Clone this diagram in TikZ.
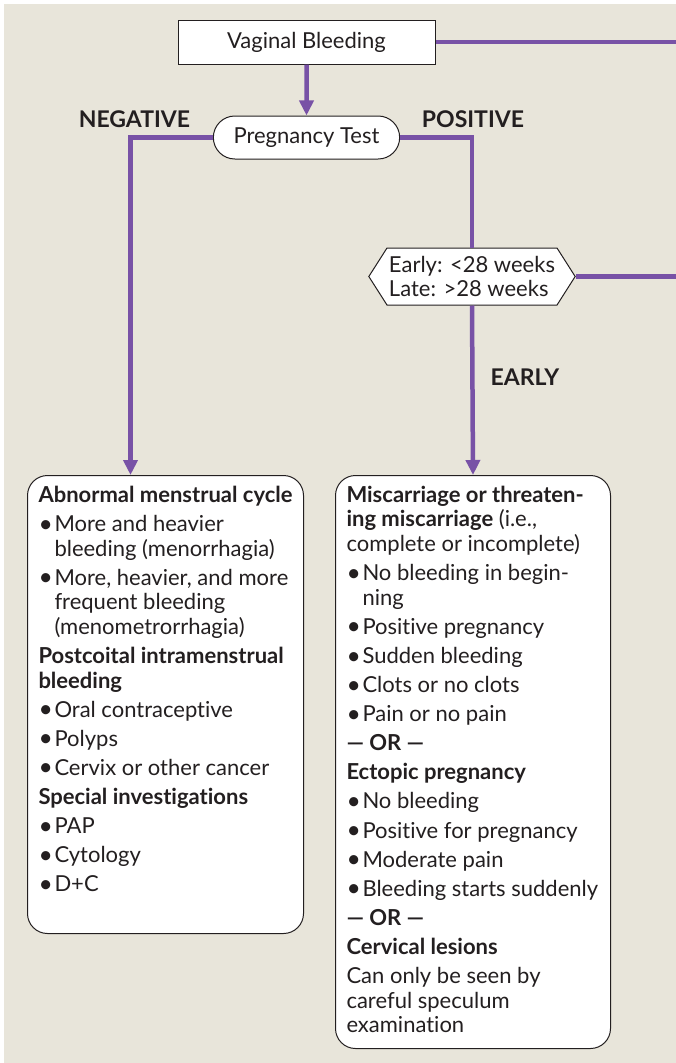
\documentclass[tikz,border=0pt]{standalone}
\usepackage{fontspec}
\setmainfont[Ligatures={TeX,NoCommon}]{Lato}
\usetikzlibrary{arrows.meta,shapes.misc,shapes.symbols}
\definecolor{bgbeige}{RGB}{232,229,218}
\definecolor{flowpurple}{RGB}{120,82,166}
\definecolor{inkgray}{RGB}{35,31,32}
\newcommand{\bul}{\makebox[16pt][l]{\raisebox{-0.6pt}{\scalebox{1.12}{\textbullet}}}}
\newcommand{\ind}{\hspace*{16pt}}
\newcommand{\gap}{\\[4.5pt]}

\begin{document}
\begin{tikzpicture}[x=1pt, y=-1pt, font=\fontsize{22}{24.6}\selectfont, text=inkgray]
    % 定义样式
    \tikzstyle{flow}=[line width=4.5pt, flowpurple]
    \tikzstyle{flowarrow}=[flow, -{Triangle[length=15pt,width=14pt]}]
    \tikzstyle{startbox}=[draw=inkgray, fill=white, line width=1pt, minimum width=257pt, minimum height=44pt]
    \tikzstyle{testbox}=[draw=inkgray, fill=white, line width=1pt, rounded rectangle, minimum width=193pt, minimum height=43pt]
    \tikzstyle{weekbox}=[draw=inkgray, fill=white, line width=1pt, signal, signal to=west and east, signal pointer angle=115, minimum width=200pt, minimum height=57pt, align=left, inner sep=2pt]
    \tikzstyle{infobox}=[draw=inkgray, fill=white, line width=1pt, rounded corners=20pt, anchor=north west, inner xsep=11pt, inner ysep=10.5pt]
    \tikzstyle{branchlabel}=[font=\fontsize{23}{26}\selectfont\bfseries]

    % 背景
    \useasboundingbox (0,0) rectangle (676,1063);
    \fill[white] (0,0) rectangle (676,1063);
    \fill[bgbeige] (4,4) rectangle (676,1063);

    % 上部的判断
    \node[startbox] (vagbleed) at (306.5,42) {Vaginal Bleeding};
    \node[testbox] (pregtest) at (306.5,137.5) {Pregnancy Test};
    \node[weekbox] (weeks) at (472,276.5) {Early: <28 weeks\\Late: >28 weeks};
    \coordinate (rightout) at (676,42);

    % 分支标签
    \node[branchlabel] (neglabel) at (134.5,119) {NEGATIVE};
    \node[branchlabel] (poslabel) at (473,119) {POSITIVE};
    \node[branchlabel] (earlylabel) at (525,377) {EARLY};

    % 左框 (阴性)
    \node[infobox] (menstbox) at (27,475) {\parbox[c][437pt][t]{254pt}{\raggedright
        \textbf{Abnormal menstrual cycle}\gap
        \bul More and heavier\\
        \ind bleeding (menorrhagia)\gap
        \bul More, heavier, and more\\
        \ind frequent bleeding\\
        \ind (menometrorrhagia)\gap
        \textbf{Postcoital intramenstrual}\\
        \textbf{bleeding}\gap
        \bul Oral contraceptive\gap
        \bul Polyps\gap
        \bul Cervix or other cancer\gap
        \textbf{Special investigations}\gap
        \bul PAP\gap
        \bul Cytology\gap
        \bul D+C}};

    % 右框 (早期)
    \node[infobox] (miscbox) at (335,475) {\parbox[c][552pt][t]{253pt}{\raggedright
        \textbf{Miscarriage or threaten-}\\
        \textbf{ing miscarriage} (i.e.,\\
        complete or incomplete)\gap
        \bul No bleeding in begin-\\
        \ind ning\gap
        \bul Positive pregnancy\gap
        \bul Sudden bleeding\gap
        \bul Clots or no clots\gap
        \bul Pain or no pain\gap
        \textbf{--- OR ---}\gap
        \textbf{Ectopic pregnancy}\gap
        \bul No bleeding\gap
        \bul Positive for pregnancy\gap
        \bul Moderate pain\gap
        \bul Bleeding starts suddenly\gap
        \textbf{--- OR ---}\gap
        \textbf{Cervical lesions}\gap
        Can only be seen by\\
        careful speculum\\
        examination}};

    % 连线
    \draw[flow] (vagbleed.east) -- (rightout);
    \draw[flowarrow] (vagbleed) -- (pregtest);
    \draw[flowarrow] (pregtest.west) -| ([xshift=-35pt]menstbox.north);
    \draw[flow] (pregtest.east) -| (weeks.north);
    \draw[flow] (weeks.east) -- (weeks.east -| rightout);
    \draw[flowarrow] (weeks.south) -- (miscbox.north);
\end{tikzpicture}
\end{document}
